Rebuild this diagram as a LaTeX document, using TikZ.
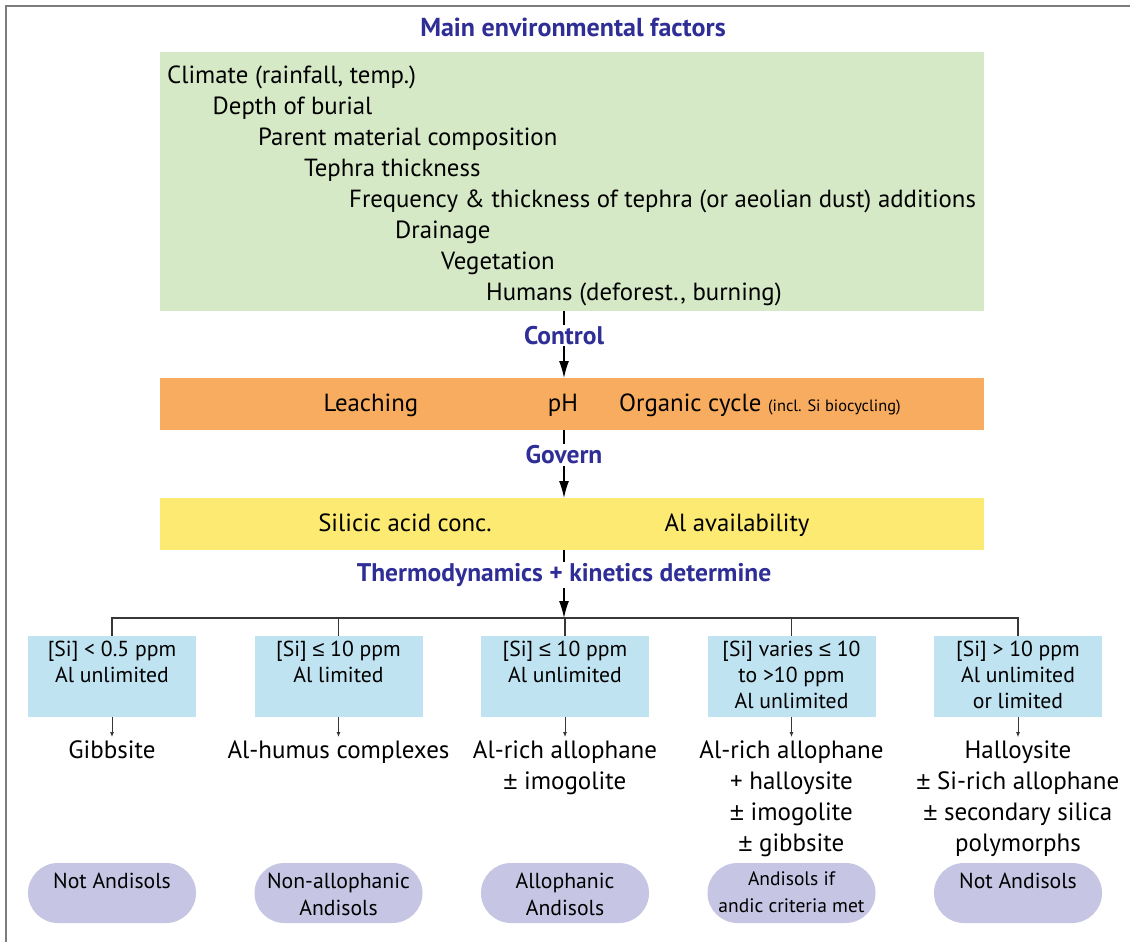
\documentclass[tikz,border=0pt]{standalone}
\usepackage{fontspec}
\setmainfont{PT Sans}
\newfontfamily\symfont{Liberation Sans}
\newcommand{\lessq}{{\symfont ≤}}
\newcommand{\plusmin}{{\symfont ±}}
\usetikzlibrary{arrows.meta}
\definecolor{greenbg}{RGB}{213,233,198}
\definecolor{orangebg}{RGB}{248,172,95}
\definecolor{yellowbg}{RGB}{252,234,115}
\definecolor{bluebg}{RGB}{192,227,241}
\definecolor{pillbg}{RGB}{198,197,228}
\definecolor{labblue}{RGB}{46,46,150}
\definecolor{framegray}{RGB}{125,125,125}
\definecolor{linegray}{RGB}{55,55,55}
\begin{document}
\begin{tikzpicture}[x=1bp,y=-1bp,
  band/.style={rectangle, inner sep=0, minimum width=824bp, anchor=north west},
  ftxt/.style={anchor=base west, inner sep=0, font=\fontsize{24.8bp}{31bp}\selectfont},
  mtxt/.style={anchor=base, inner sep=0, font=\fontsize{24.8bp}{31bp}\selectfont},
  lab/.style={fill=white, inner sep=1.5bp, text=labblue, font=\bfseries\fontsize{25.5bp}{28bp}\selectfont},
  mainarr/.style={draw=black, line width=1.4bp, -{Latex[length=17bp,width=10bp]}},
  condbox/.style={rectangle, fill=bluebg, inner sep=0, minimum width=168bp, minimum height=81bp},
  condtxt/.style={anchor=base, inner sep=0, align=center, font=\fontsize{21.7bp}{26bp}\selectfont},
  restxt/.style={anchor=base, inner sep=0, align=center, font=\fontsize{25bp}{31bp}\selectfont},
  pill/.style={rectangle, rounded corners=30bp, fill=pillbg, inner sep=0, minimum width=168bp, minimum height=60bp},
  pilltxt/.style={anchor=base, inner sep=0, align=center, font=\fontsize{21.7bp}{27bp}\selectfont},
  conn/.style={draw=linegray, line width=1.2bp},
  sarr/.style={draw=linegray, line width=0.8bp, shorten >=3bp, -{Latex[length=5bp,width=4bp]}}
]
\useasboundingbox (0,0) rectangle (1130,942);
\fill[white] (0,0) rectangle (1130,942);
\draw[framegray, line width=2bp] (6,942) -- (6,6) -- (1130,6);

% title
\node[anchor=base, inner sep=0, text=labblue, font=\bfseries\fontsize{26bp}{30bp}\selectfont] (title) at (573,36) {Main environmental factors};

% green band
\node[band, fill=greenbg, minimum height=259bp] (green) at (160,52) {};
\node[ftxt] (f1) at (167,83) {Climate (rainfall, temp.)};
\node[ftxt] (f2) at (212.5,114) {Depth of burial};
\node[ftxt] (f3) at (258,145) {Parent material composition};
\node[ftxt] (f4) at (304,176) {Tephra thickness};
\node[ftxt] (f5) at (349,207) {Frequency \& thickness of tephra (or aeolian dust) additions};
\node[ftxt] (f6) at (395,238) {Drainage};
\node[ftxt] (f7) at (441,269) {Vegetation};
\node[ftxt] (f8) at (486,300) {Humans (deforest., burning)};

% orange band
\node[band, fill=orangebg, minimum height=52bp] (orange) at (160,378) {};
\node[mtxt] (leach) at (371,411) {Leaching};
\node[mtxt] (ph) at (563,411) {pH};
\node[ftxt] (org) at (619,411) {Organic cycle {\fontsize{16.4bp}{18bp}\selectfont(incl. Si biocycling)}};

% yellow band
\node[band, fill=yellowbg, minimum height=52bp] (yellow) at (160,498) {};
\node[mtxt] (sil) at (405,531) {Silicic acid conc.};
\node[mtxt] (alav) at (737,531) {Al availability};

\coordinate (hub) at (564,618);

\draw[mainarr] (green.south -| hub) -- node[lab, pos=0.36] {Control} (orange.north -| hub);
\draw[mainarr] (orange.south -| hub) -- node[lab, pos=0.36] {Govern} (yellow.north -| hub);
\draw[mainarr] (yellow.south -| hub) -- node[lab, pos=0.36] {Thermodynamics + kinetics determine} (hub);

% condition boxes
\node[condbox] (b1) at (112,676.5) {};
\node[condbox] (b2) at (338.5,676.5) {};
\node[condbox] (b3) at (565,676.5) {};
\node[condbox] (b4) at (791.5,676.5) {};
\node[condbox] (b5) at (1018,676.5) {};
\node[condtxt] (t1) at (112,682) {[Si] < 0.5 ppm\\Al unlimited};
\node[condtxt] (t2) at (338.5,682) {[Si] \lessq{} 10 ppm\\Al limited};
\node[condtxt] (t3) at (565,682) {[Si] \lessq{} 10 ppm\\Al unlimited};
\node[condtxt] (t4) at (791.5,708) {[Si] varies \lessq{} 10\\to >10 ppm\\Al unlimited};
\node[condtxt] (t5) at (1018,708) {[Si] > 10 ppm\\Al unlimited\\or limited};

\draw[conn] (b1.north) -- (b1.north |- hub) -- (b5.north |- hub) -- (b5.north);
\draw[conn] (b2.north) -- (b2.north |- hub);
\draw[conn] (b3.north) -- (b3.north |- hub);
\draw[conn] (b4.north) -- (b4.north |- hub);

% results
\node[restxt] (r1) at (112,758) {Gibbsite};
\node[restxt] (r2) at (338.5,758) {Al-humus complexes};
\node[restxt] (r3) at (565,789) {Al-rich allophane\\\plusmin{} imogolite};
\node[restxt] (r4) at (791.5,851) {Al-rich allophane\\+ halloysite\\\plusmin{} imogolite\\\plusmin{} gibbsite};
\node[restxt] (r5) at (1018,851) {Halloysite\\\plusmin{} Si-rich allophane\\\plusmin{} secondary silica\\polymorphs};

\draw[sarr] (b1.south) -- (r1.north);
\draw[sarr] (b2.south) -- (r2.north);
\draw[sarr] (b3.south) -- (r3.north);
\draw[sarr] (b4.south) -- (r4.north);
\draw[sarr] (b5.south) -- (r5.north);

% soil classes
\node[pill] (p1) at (112,893) {};
\node[pill] (p2) at (338.5,893) {};
\node[pill] (p3) at (565,893) {};
\node[pill] (p4) at (791.5,893) {};
\node[pill] (p5) at (1018,893) {};
\node[pilltxt] (s1) at (112,888) {Not Andisols};
\node[pilltxt] (s2) at (338.5,915) {Non-allophanic\\Andisols};
\node[pilltxt] (s3) at (565,915) {Allophanic\\Andisols};
\node[pilltxt, font=\fontsize{19.5bp}{27bp}\selectfont] (s4) at (791.5,912) {Andisols if\\andic criteria met};
\node[pilltxt] (s5) at (1018,888) {Not Andisols};
\end{tikzpicture}
\end{document}
